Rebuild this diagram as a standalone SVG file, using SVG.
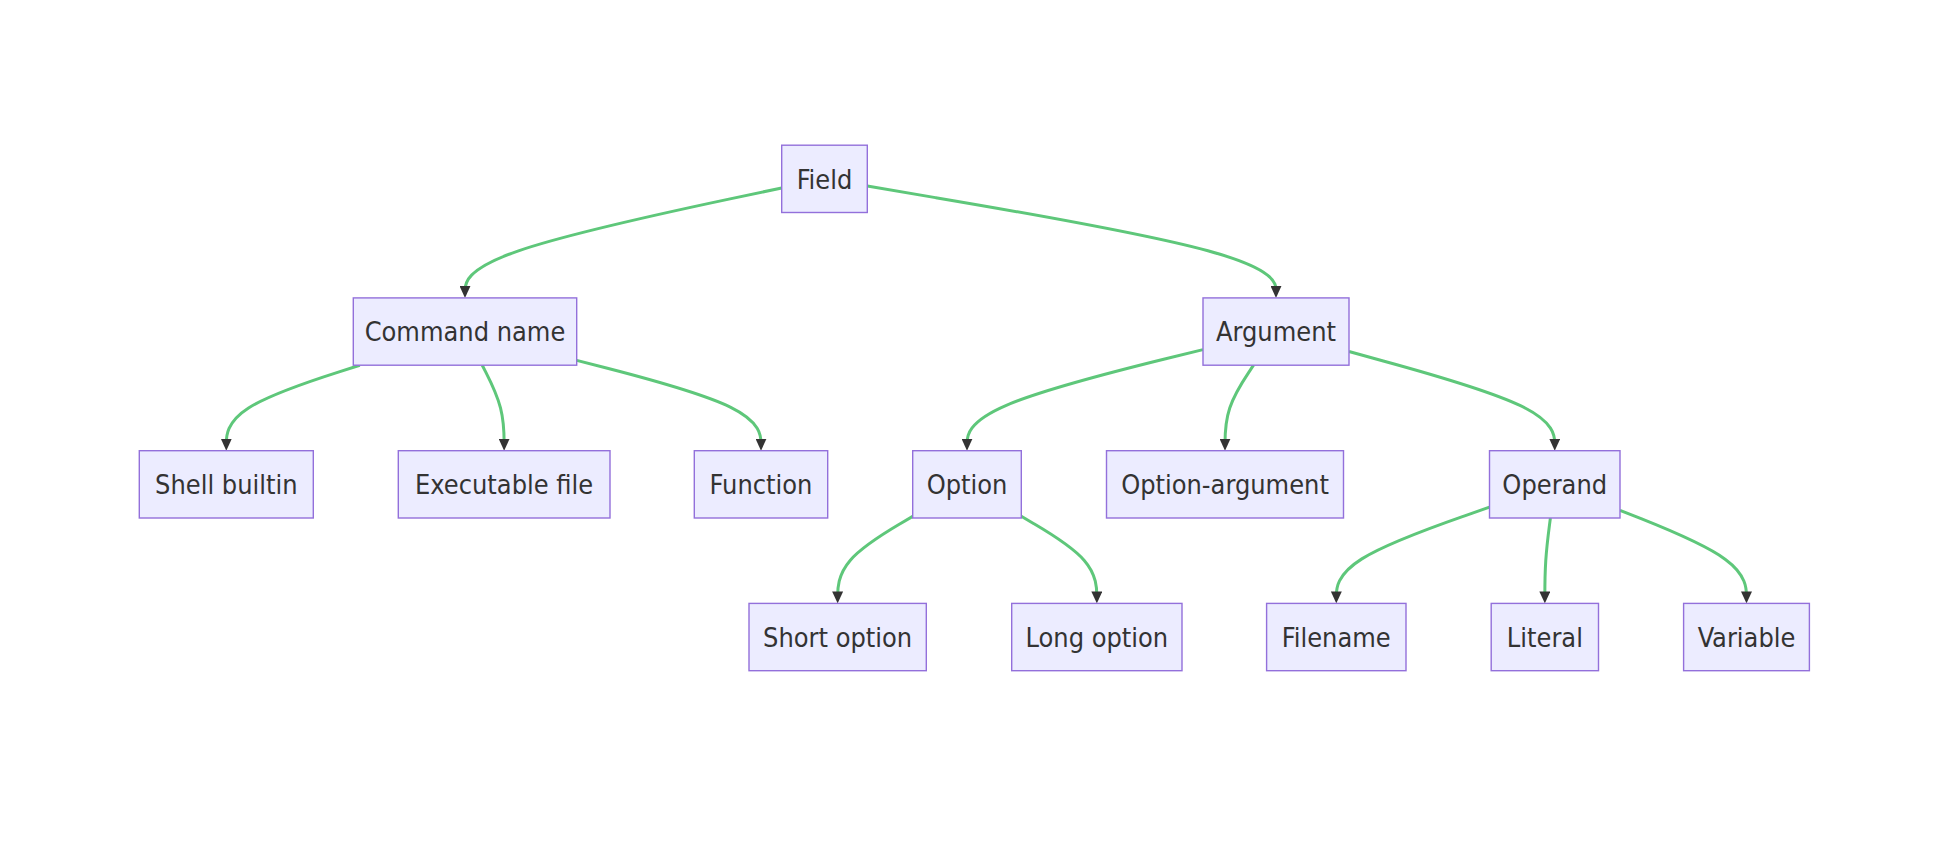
<svg xmlns="http://www.w3.org/2000/svg" width="1948" height="868" viewBox="0 0 1948 868">
<style>
.node rect{fill:#ECECFF;stroke:#9370DB;stroke-width:1.4px;}
.node text{font-family:"DejaVu Sans Condensed","DejaVu Sans",sans-serif;font-stretch:condensed;font-size:26.9px;fill:#333333;text-anchor:middle;}
.edges path{fill:none;stroke:#5EC77A;stroke-width:3px;marker-end:url(#arrow);}
</style>
<defs>
<marker id="arrow" markerUnits="userSpaceOnUse" viewBox="0 0 12 11" markerWidth="12" markerHeight="11" refX="4.9" refY="5.5" orient="auto">
<path d="M0,0 L12,5.5 L0,11 z" fill="#333333"/>
</marker>
</defs>
<rect width="1948" height="868" fill="#ffffff"/>
<g class="edges">
<path d="M781.7,187.94 L728.92,199.15 C676.13,210.36 570.57,232.78 517.78,251.11 C465,269.43 465,283.67 465,290.78"/>
<path d="M867.3,186.09 L935.42,197.61 C1003.53,209.13 1139.77,232.16 1207.88,250.8 C1276,269.43 1276,283.67 1276,290.78"/>
<path d="M359.8,365.2 L337.55,372.33 C315.3,379.45 270.8,393.7 248.55,407.95 C226.3,422.2 226.3,436.45 226.3,443.58"/>
<path d="M482.25,365.2 L485.9,372.33 C489.55,379.45 496.85,393.7 500.5,407.95 C504.15,422.2 504.15,436.45 504.15,443.58"/>
<path d="M576.7,360.36 L607.42,368.29 C638.13,376.22 699.57,392.09 730.28,407.14 C761,422.2 761,436.45 761,443.58"/>
<path d="M1203,349.59 L1163.67,359.32 C1124.33,369.04 1045.67,388.5 1006.33,405.35 C967,422.2 967,436.45 967,443.58"/>
<path d="M1253.52,365.2 L1248.77,372.33 C1244.01,379.45 1234.51,393.7 1229.75,407.95 C1225,422.2 1225,436.45 1225,443.58"/>
<path d="M1349,351.54 L1383.29,360.94 C1417.58,370.34 1486.17,389.15 1520.46,405.67 C1554.75,422.2 1554.75,436.45 1554.75,443.58"/>
<path d="M912.7,516.4 L900.19,523.78 C887.68,531.17 862.67,545.93 850.16,560.43 C837.65,574.93 837.65,589.17 837.65,596.28"/>
<path d="M1021.3,516.28 L1033.89,523.68 C1046.48,531.09 1071.67,545.89 1084.26,560.41 C1096.85,574.93 1096.85,589.17 1096.85,596.28"/>
<path d="M1489.5,507.16 L1463.97,516.08 C1438.43,525.01 1387.37,542.85 1361.83,558.89 C1336.3,574.93 1336.3,589.17 1336.3,596.28"/>
<path d="M1550.39,518 L1549.47,525.12 C1548.54,532.23 1546.7,546.47 1545.77,560.7 C1544.85,574.93 1544.85,589.17 1544.85,596.28"/>
<path d="M1620,510.33 L1641.08,518.73 C1662.17,527.12 1704.33,543.91 1725.42,559.42 C1746.5,574.93 1746.5,589.17 1746.5,596.28"/>
</g>
<g id="field" class="node"><rect x="781.7" y="145.2" width="85.6" height="67.3"/><text x="824.5" y="188.6">Field</text></g>
<g id="command-name" class="node"><rect x="353.3" y="297.9" width="223.4" height="67.3"/><text x="465" y="341.3">Command name</text></g>
<g id="argument" class="node"><rect x="1203" y="297.9" width="146" height="67.3"/><text x="1276" y="341.3">Argument</text></g>
<g id="shell-builtin" class="node"><rect x="139.3" y="450.7" width="174" height="67.3"/><text x="226.3" y="494.1">Shell builtin</text></g>
<g id="executable-file" class="node"><rect x="398.3" y="450.7" width="211.7" height="67.3"/><text x="504.15" y="494.1">Executable file</text></g>
<g id="function" class="node"><rect x="694.3" y="450.7" width="133.4" height="67.3"/><text x="761" y="494.1">Function</text></g>
<g id="option" class="node"><rect x="912.7" y="450.7" width="108.6" height="67.3"/><text x="967" y="494.1">Option</text></g>
<g id="option-argument" class="node"><rect x="1106.5" y="450.7" width="237" height="67.3"/><text x="1225" y="494.1">Option-argument</text></g>
<g id="operand" class="node"><rect x="1489.5" y="450.7" width="130.5" height="67.3"/><text x="1554.75" y="494.1">Operand</text></g>
<g id="short-option" class="node"><rect x="749" y="603.4" width="177.3" height="67.3"/><text x="837.65" y="646.8">Short option</text></g>
<g id="long-option" class="node"><rect x="1011.7" y="603.4" width="170.3" height="67.3"/><text x="1096.85" y="646.8">Long option</text></g>
<g id="filename" class="node"><rect x="1266.6" y="603.4" width="139.4" height="67.3"/><text x="1336.3" y="646.8">Filename</text></g>
<g id="literal" class="node"><rect x="1491.2" y="603.4" width="107.3" height="67.3"/><text x="1544.85" y="646.8">Literal</text></g>
<g id="variable" class="node"><rect x="1683.6" y="603.4" width="125.8" height="67.3"/><text x="1746.5" y="646.8">Variable</text></g>
</svg>
